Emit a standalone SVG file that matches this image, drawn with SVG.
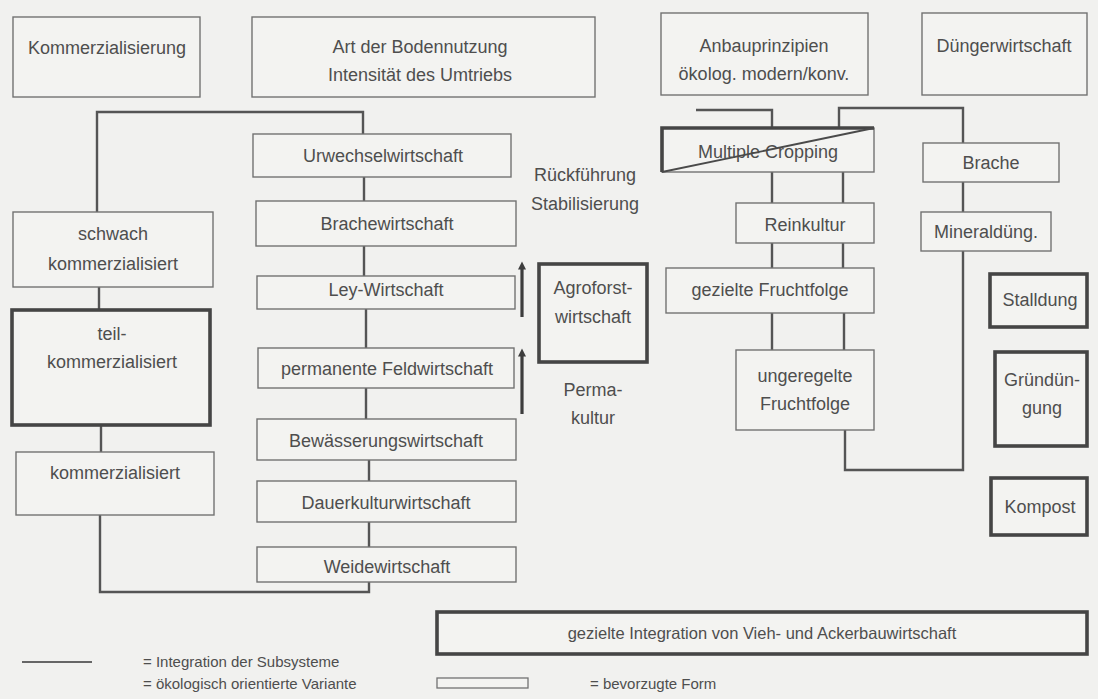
<svg xmlns="http://www.w3.org/2000/svg" width="1098" height="699" viewBox="0 0 1098 699">
<defs>
<marker id="ah" viewBox="0 0 10 10" refX="2" refY="5" markerWidth="11" markerHeight="8" markerUnits="userSpaceOnUse" orient="auto">
<path d="M0,0 L10,5 L0,10 Z" fill="#3d3d3d"/>
</marker>
<style>
text{font-family:"Liberation Sans",Arial,sans-serif;font-size:18px;fill:#4e4e4e;text-anchor:middle}
.lg{font-size:15px;text-anchor:start}
.b{fill:#f3f3f1;stroke:#727272;stroke-width:1.4}
.t{fill:#f3f3f1;stroke:#454545;stroke-width:3.6}
.c{fill:none;stroke:#555;stroke-width:2.4}
.ar{fill:none;stroke:#3d3d3d;stroke-width:3.2}
</style>
</defs>
<rect x="0" y="0" width="1098" height="699" fill="#f1f1ef"/>

<g id="connectors">
<path class="c" d="M97,212 V112 H363 V134"/>
<path class="c" d="M99,287 V310"/>
<path class="c" d="M101,425 V452"/>
<path class="c" d="M100,515 V592 H369 V582"/>
<path class="c" d="M364,177 V201"/>
<path class="c" d="M364,246 V276"/>
<path class="c" d="M366,309 V348"/>
<path class="c" d="M366,388 V419"/>
<path class="c" d="M369,460 V481"/>
<path class="c" d="M369,522 V547"/>
<path class="c" d="M696,110 H772 V128"/>
<path class="c" d="M772,172 V203 M772,243 V268 M772,313 V350"/>
<path class="c" d="M843,172 V203 M843,243 V268 M844,313 V350"/>
<path class="c" d="M839,128 V108 H963 V470 H845 V430"/>
<path class="ar" d="M522,317 V268" marker-end="url(#ah)"/>
<path class="ar" d="M522,414 V355" marker-end="url(#ah)"/>
</g>

<g id="kommerzialisierung"><rect class="b" x="13" y="17" width="187" height="80"/><text x="107" y="54">Kommerzialisierung</text></g>
<g id="bodennutzung"><rect class="b" x="252" y="17" width="343" height="80"/><text x="420" y="53">Art der Bodennutzung</text><text x="420" y="81">Intensität des Umtriebs</text></g>
<g id="anbauprinzipien"><rect class="b" x="661" y="13" width="207" height="82"/><text x="764" y="52">Anbauprinzipien</text><text x="764" y="80">ökolog. modern/konv.</text></g>
<g id="duengerwirtschaft"><rect class="b" x="922" y="13" width="165" height="82"/><text x="1004" y="52">Düngerwirtschaft</text></g>

<g id="schwach"><rect class="b" x="13" y="212" width="200" height="75"/><text x="113" y="240">schwach</text><text x="113" y="270">kommerzialisiert</text></g>
<g id="teil"><rect class="t" x="12" y="310" width="198" height="115"/><text x="112" y="340">teil-</text><text x="112" y="368">kommerzialisiert</text></g>
<g id="kommerzialisiert"><rect class="b" x="16" y="452" width="198" height="63"/><text x="115" y="479">kommerzialisiert</text></g>

<g id="urwechsel"><rect class="b" x="253" y="134" width="258" height="43"/><text x="383" y="162">Urwechselwirtschaft</text></g>
<g id="brache-w"><rect class="b" x="256" y="201" width="260" height="45"/><text x="387" y="230">Brachewirtschaft</text></g>
<g id="ley"><rect class="b" x="257" y="276" width="258" height="33"/><text x="386" y="296">Ley-Wirtschaft</text></g>
<g id="permanent"><rect class="b" x="258" y="348" width="256" height="40"/><text x="387" y="375">permanente Feldwirtschaft</text></g>
<g id="bewaesserung"><rect class="b" x="257" y="419" width="259" height="41"/><text x="386" y="447">Bewässerungswirtschaft</text></g>
<g id="dauerkultur"><rect class="b" x="257" y="481" width="259" height="41"/><text x="386" y="509">Dauerkulturwirtschaft</text></g>
<g id="weide"><rect class="b" x="257" y="547" width="259" height="35"/><text x="387" y="573">Weidewirtschaft</text></g>

<g id="rueckfuehrung"><text x="585" y="181">Rückführung</text><text x="585" y="210">Stabilisierung</text></g>
<g id="agroforst"><rect class="t" x="539" y="264" width="108" height="98"/><text x="593" y="294">Agroforst-</text><text x="593" y="323">wirtschaft</text></g>
<g id="perma"><text x="593" y="396">Perma-</text><text x="593" y="424">kultur</text></g>

<g id="multiple"><rect class="b" x="662" y="128" width="212" height="44"/><path d="M662,172 V128 H874" fill="none" stroke="#454545" stroke-width="3.6"/><text x="768" y="158">Multiple Cropping</text><path d="M662,172 L874,128" stroke="#4a4a4a" stroke-width="1.8"/></g>
<g id="reinkultur"><rect class="b" x="736" y="203" width="138" height="40"/><text x="805" y="231">Reinkultur</text></g>
<g id="gezielte-ff"><rect class="b" x="666" y="268" width="208" height="45"/><text x="770" y="296">gezielte Fruchtfolge</text></g>
<g id="ungeregelte"><rect class="b" x="736" y="350" width="138" height="80"/><text x="805" y="382">ungeregelte</text><text x="805" y="410">Fruchtfolge</text></g>

<g id="brache"><rect class="b" x="923" y="143" width="136" height="39"/><text x="991" y="169">Brache</text></g>
<g id="mineral"><rect class="b" x="921" y="212" width="130" height="39"/><text x="986" y="238">Mineraldüng.</text></g>
<g id="stalldung"><rect class="t" x="990" y="274" width="97" height="53"/><text x="1040" y="306">Stalldung</text></g>
<g id="gruenduengung"><rect class="t" x="995" y="352" width="92" height="94"/><text x="1042" y="386">Gründün-</text><text x="1042" y="414">gung</text></g>
<g id="kompost"><rect class="t" x="991" y="478" width="96" height="57"/><text x="1040" y="513">Kompost</text></g>

<g id="integration"><rect class="t" x="437" y="612" width="650" height="42"/><text x="762" y="639" style="font-size:16.5px">gezielte Integration von Vieh- und Ackerbauwirtschaft</text></g>

<g id="legend">
<line x1="22" y1="662" x2="92" y2="662" stroke="#666" stroke-width="2"/>
<text class="lg" x="143" y="667">= Integration der Subsysteme</text>
<text class="lg" x="143" y="689">= ökologisch orientierte Variante</text>
<rect x="437" y="678" width="91" height="10" fill="#f3f3f1" stroke="#727272" stroke-width="1.3"/>
<text class="lg" x="590" y="689">= bevorzugte Form</text>
</g>
</svg>
